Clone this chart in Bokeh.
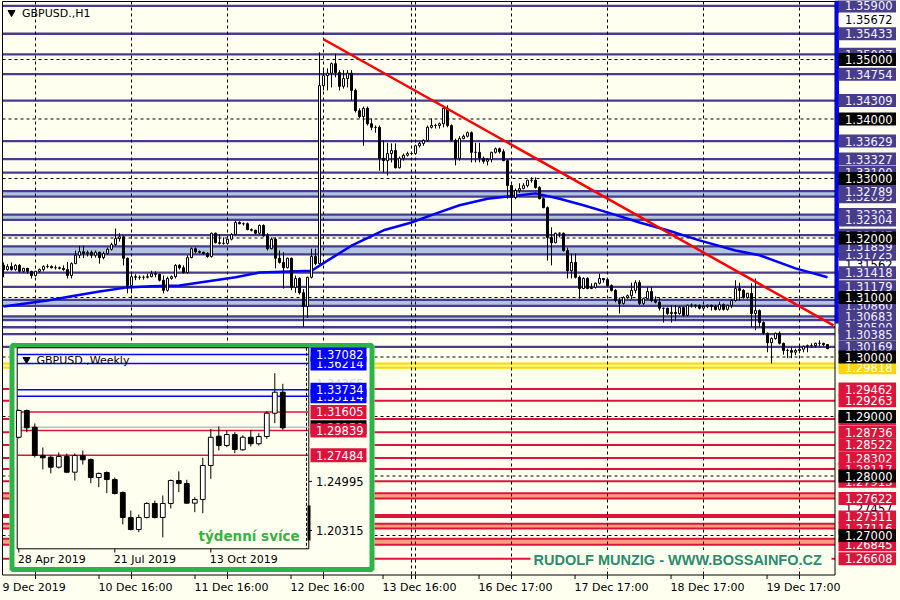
import numpy as np
from bokeh.plotting import figure
from bokeh.models import Range1d, ColumnDataSource
from bokeh.core.properties import value
from bokeh.embed import file_html
from bokeh.resources import INLINE

# ------------------------------------------------------------------ data (GBPUSD H1)
h1_first_open = 1.3154
h1_close = [
    1.3147, 1.3152, 1.3147, 1.3154, 1.3144, 1.3149, 1.3144, 1.3137, 1.3144, 1.3147,
    1.3152, 1.3152, 1.3150, 1.3150, 1.3149, 1.3147, 1.3137, 1.3157, 1.3171, 1.3177,
    1.3174, 1.3176, 1.3171, 1.3176, 1.3167, 1.3174, 1.3181, 1.3189, 1.3199, 1.3202,
    1.3166, 1.3120, 1.3135, 1.3134, 1.3134, 1.3134, 1.3135, 1.3140, 1.3139, 1.3129,
    1.3112, 1.3132, 1.3135, 1.3154, 1.3150, 1.3142, 1.3167, 1.3182, 1.3177, 1.3176,
    1.3174, 1.3169, 1.3208, 1.3192, 1.3191, 1.3191, 1.3198, 1.3206, 1.3226, 1.3224,
    1.3224, 1.3214, 1.3213, 1.3208, 1.3221, 1.3204, 1.3182, 1.3198, 1.3166, 1.3159,
    1.3150, 1.3166, 1.3117, 1.3132, 1.3108, 1.3085, 1.3134, 1.3169, 1.3157, 1.3456,
    1.3473, 1.3477, 1.3493, 1.3478, 1.3455, 1.3468, 1.3477, 1.3448, 1.3414, 1.3404,
    1.3418, 1.3392, 1.3386, 1.3386, 1.3334, 1.3330, 1.3342, 1.3347, 1.3318, 1.3334,
    1.3339, 1.3342, 1.3342, 1.3355, 1.3359, 1.3364, 1.3386, 1.3389, 1.3389, 1.3392,
    1.3418, 1.3389, 1.3364, 1.3334, 1.3367, 1.3371, 1.3377, 1.3344, 1.3344, 1.3334,
    1.3329, 1.3332, 1.3344, 1.3350, 1.3345, 1.3330, 1.3288, 1.3268, 1.3280, 1.3283,
    1.3288, 1.3297, 1.3297, 1.3285, 1.3266, 1.3251, 1.3201, 1.3192, 1.3208, 1.3208,
    1.3179, 1.3145, 1.3159, 1.3134, 1.3115, 1.3132, 1.3115, 1.3117, 1.3124, 1.3132,
    1.3130, 1.3120, 1.3112, 1.3095, 1.3090, 1.3100, 1.3103, 1.3112, 1.3125, 1.3090,
    1.3098, 1.3110, 1.3095, 1.3092, 1.3082, 1.3082, 1.3073, 1.3075, 1.3073, 1.3083,
    1.3070, 1.3087, 1.3087, 1.3087, 1.3082, 1.3085, 1.3087, 1.3085, 1.3080, 1.3088,
    1.3080, 1.3087, 1.3095, 1.3115, 1.3112, 1.3100, 1.3107, 1.3073, 1.3078, 1.3058,
    1.3040, 1.3024, 1.3031, 1.3040, 1.3023, 1.3011, 1.3011, 1.3008, 1.3011, 1.3013,
    1.3018, 1.3019, 1.3019, 1.3023, 1.3023, 1.3021, 1.3014]
h1_high = [
    1.3159, 1.3156, 1.3159, 1.3156, 1.3156, 1.3150, 1.3150, 1.3145, 1.3145, 1.3149,
    1.3154, 1.3156, 1.3154, 1.3154, 1.3152, 1.3154, 1.3160, 1.3159, 1.3179, 1.3187,
    1.3187, 1.3179, 1.3179, 1.3179, 1.3177, 1.3177, 1.3184, 1.3192, 1.3216, 1.3208,
    1.3204, 1.3167, 1.3139, 1.3139, 1.3137, 1.3137, 1.3140, 1.3145, 1.3144, 1.3140,
    1.3137, 1.3135, 1.3137, 1.3156, 1.3156, 1.3154, 1.3171, 1.3184, 1.3184, 1.3179,
    1.3177, 1.3176, 1.3209, 1.3209, 1.3206, 1.3201, 1.3199, 1.3208, 1.3229, 1.3228,
    1.3226, 1.3226, 1.3216, 1.3214, 1.3223, 1.3223, 1.3208, 1.3201, 1.3201, 1.3179,
    1.3176, 1.3167, 1.3167, 1.3137, 1.3134, 1.3114, 1.3135, 1.3182, 1.3182, 1.3512,
    1.3482, 1.3485, 1.3495, 1.3510, 1.3482, 1.3482, 1.3482, 1.3482, 1.3451, 1.3418,
    1.3421, 1.3421, 1.3401, 1.3389, 1.3389, 1.3364, 1.3360, 1.3359, 1.3359, 1.3337,
    1.3342, 1.3345, 1.3345, 1.3357, 1.3362, 1.3366, 1.3389, 1.3401, 1.3392, 1.3394,
    1.3421, 1.3423, 1.3391, 1.3367, 1.3371, 1.3374, 1.3379, 1.3379, 1.3360, 1.3360,
    1.3337, 1.3334, 1.3345, 1.3352, 1.3352, 1.3349, 1.3332, 1.3290, 1.3283, 1.3292,
    1.3292, 1.3298, 1.3302, 1.3302, 1.3287, 1.3268, 1.3253, 1.3218, 1.3209, 1.3209,
    1.3209, 1.3184, 1.3174, 1.3174, 1.3137, 1.3134, 1.3134, 1.3124, 1.3125, 1.3140,
    1.3132, 1.3132, 1.3122, 1.3114, 1.3100, 1.3102, 1.3105, 1.3125, 1.3129, 1.3129,
    1.3100, 1.3117, 1.3117, 1.3102, 1.3100, 1.3083, 1.3083, 1.3087, 1.3087, 1.3085,
    1.3085, 1.3088, 1.3090, 1.3088, 1.3088, 1.3087, 1.3088, 1.3088, 1.3088, 1.3093,
    1.3090, 1.3088, 1.3097, 1.3129, 1.3125, 1.3114, 1.3108, 1.3124, 1.3132, 1.3080,
    1.3060, 1.3041, 1.3033, 1.3041, 1.3043, 1.3024, 1.3014, 1.3016, 1.3014, 1.3018,
    1.3019, 1.3021, 1.3023, 1.3024, 1.3028, 1.3024, 1.3021]
h1_low = [
    1.3134, 1.3145, 1.3145, 1.3145, 1.3142, 1.3142, 1.3140, 1.3132, 1.3135, 1.3142,
    1.3144, 1.3149, 1.3149, 1.3147, 1.3147, 1.3145, 1.3132, 1.3132, 1.3156, 1.3166,
    1.3166, 1.3169, 1.3166, 1.3167, 1.3157, 1.3164, 1.3172, 1.3179, 1.3186, 1.3194,
    1.3154, 1.3107, 1.3107, 1.3129, 1.3130, 1.3130, 1.3132, 1.3134, 1.3134, 1.3127,
    1.3107, 1.3110, 1.3130, 1.3132, 1.3147, 1.3140, 1.3140, 1.3166, 1.3174, 1.3174,
    1.3172, 1.3167, 1.3167, 1.3191, 1.3189, 1.3189, 1.3189, 1.3196, 1.3204, 1.3223,
    1.3221, 1.3213, 1.3211, 1.3206, 1.3206, 1.3202, 1.3179, 1.3181, 1.3149, 1.3157,
    1.3115, 1.3149, 1.3112, 1.3108, 1.3105, 1.3050, 1.3066, 1.3132, 1.3154, 1.3156,
    1.3448, 1.3448, 1.3453, 1.3470, 1.3448, 1.3451, 1.3453, 1.3431, 1.3411, 1.3401,
    1.3355, 1.3389, 1.3381, 1.3377, 1.3313, 1.3310, 1.3305, 1.3327, 1.3317, 1.3317,
    1.3330, 1.3337, 1.3339, 1.3340, 1.3352, 1.3355, 1.3362, 1.3384, 1.3384, 1.3384,
    1.3386, 1.3386, 1.3362, 1.3322, 1.3330, 1.3366, 1.3369, 1.3327, 1.3327, 1.3327,
    1.3325, 1.3322, 1.3327, 1.3342, 1.3342, 1.3329, 1.3266, 1.3234, 1.3265, 1.3276,
    1.3282, 1.3285, 1.3293, 1.3283, 1.3265, 1.3250, 1.3162, 1.3154, 1.3191, 1.3201,
    1.3177, 1.3132, 1.3132, 1.3132, 1.3098, 1.3114, 1.3114, 1.3114, 1.3115, 1.3122,
    1.3125, 1.3118, 1.3110, 1.3092, 1.3073, 1.3088, 1.3098, 1.3097, 1.3107, 1.3087,
    1.3087, 1.3097, 1.3092, 1.3090, 1.3078, 1.3058, 1.3071, 1.3058, 1.3061, 1.3071,
    1.3068, 1.3068, 1.3083, 1.3082, 1.3080, 1.3078, 1.3082, 1.3078, 1.3078, 1.3078,
    1.3078, 1.3078, 1.3082, 1.3093, 1.3095, 1.3098, 1.3098, 1.3050, 1.3045, 1.3050,
    1.3038, 1.3008, 1.2989, 1.3029, 1.3021, 1.3004, 1.2998, 1.2998, 1.3003, 1.3006,
    1.3008, 1.3008, 1.3016, 1.3016, 1.3018, 1.3018, 1.3013]

# moving average (blue) read at some bars
ma_bars = [0, 11, 17, 24, 31, 37, 44, 58, 64, 77, 81, 87, 95, 102, 108, 114, 121, 128, 133,
           139, 145, 152, 159, 166, 174, 183, 189, 198, 206]
ma_values = [1.3085, 1.3095, 1.3102, 1.3110, 1.3117, 1.3119, 1.3120, 1.3134, 1.3142, 1.3145,
             1.3162, 1.3187, 1.3213, 1.3226, 1.3241, 1.3255, 1.3266, 1.3271, 1.3275,
             1.3266, 1.3255, 1.3241, 1.3226, 1.3213, 1.3196, 1.3179, 1.3171, 1.3149, 1.3134]

# red trend line
trend_bars = [80, 207.5]
trend_prices = [1.3534, 1.3053]

# time axis
time_tick_bars = [8, 32, 56, 80, 103, 127, 151, 175, 199]
time_tick_labels = ["9 Dec 2019", "10 Dec 16:00", "11 Dec 16:00", "12 Dec 16:00", "13 Dec 16:00",
                    "16 Dec 17:00", "17 Dec 17:00", "18 Dec 17:00", "19 Dec 17:00"]
extra_vline_bars = [102]

# horizontal levels
round_levels = [1.35, 1.34, 1.33, 1.32, 1.31, 1.30, 1.29, 1.28, 1.27]
resistance_levels = [1.35900, 1.35433, 1.35087, 1.34754, 1.34309, 1.33629, 1.33100, 1.33327,
                     1.32695, 1.32789, 1.32393, 1.32304, 1.32047, 1.31725, 1.31859, 1.31418,
                     1.31179, 1.30960, 1.30860, 1.30620, 1.30683, 1.30500, 1.30385, 1.30169]
resistance_labels = [1.35900, 1.35433, 1.35087, 1.34754, 1.34309, 1.33629, 1.33100, 1.33327,
                     1.32695, 1.32789, 1.32393, 1.32304, 1.32047, 1.31725, 1.31859, 1.31418,
                     1.31179, 1.30960, 1.30860, 1.30683, 1.30500, 1.30385, 1.30169]
resistance_bands = [(1.32789, 1.32695), (1.32393, 1.32304), (1.31859, 1.31725),
                    (1.30960, 1.30860), (1.30683, 1.30620)]
pivot_levels = [1.29890, 1.29818]
support_levels = [1.29462, 1.29263, 1.28960, 1.28736, 1.28522, 1.28302, 1.28117, 1.27913,
                  1.27710, 1.27622, 1.27345, 1.27311, 1.27197, 1.27116, 1.26945, 1.26845, 1.26608]
support_labels = [1.29462, 1.29263, 1.28960, 1.28736, 1.28522, 1.28302, 1.28117, 1.27913,
                  1.27622, 1.27311, 1.27116, 1.26845, 1.26608]
support_bands = [(1.27710, 1.27622), (1.27197, 1.27116), (1.26945, 1.26845)]
support_solid_bands = [(1.27345, 1.27311)]
white_levels = [1.35672, 1.31562, 1.27457]

# ------------------------------------------------------------------ data (GBPUSD Weekly inset)
wk_open = [1.2920, 1.3175, 1.3016, 1.2746, 1.2730, 1.2635, 1.2737, 1.2587, 1.2746, 1.2708,
           1.2536, 1.2584, 1.2517, 1.2394, 1.2155, 1.2041, 1.2155, 1.2289, 1.2155, 1.2289,
           1.2508, 1.2479, 1.2292, 1.2327, 1.2651, 1.2930, 1.2841, 1.2946, 1.2800, 1.2920,
           1.2858, 1.2927, 1.3149, 1.3349]
wk_high = [1.3184, 1.3184, 1.3051, 1.2822, 1.2746, 1.2775, 1.2765, 1.2765, 1.2794, 1.2717,
           1.2584, 1.2594, 1.2536, 1.2403, 1.2222, 1.2184, 1.2301, 1.2317, 1.2365, 1.2517,
           1.2594, 1.2515, 1.2349, 1.2724, 1.3000, 1.3022, 1.2984, 1.2968, 1.2937, 1.2991,
           1.2958, 1.3168, 1.3530, 1.3429]
wk_low = [1.2908, 1.2968, 1.2727, 1.2613, 1.2575, 1.2622, 1.2577, 1.2508, 1.2660, 1.2482,
          1.2444, 1.2387, 1.2375, 1.2089, 1.2032, 1.2015, 1.2146, 1.2146, 1.1965, 1.2241,
          1.2396, 1.2286, 1.2206, 1.2196, 1.2524, 1.2794, 1.2825, 1.2768, 1.2794, 1.2832,
          1.2841, 1.2905, 1.3054, 1.2991]
wk_close = [1.3175, 1.3010, 1.2746, 1.2724, 1.2635, 1.2737, 1.2587, 1.2746, 1.2705, 1.2536,
            1.2575, 1.2517, 1.2384, 1.2155, 1.2041, 1.2155, 1.2289, 1.2155, 1.2289, 1.2508,
            1.2479, 1.2292, 1.2327, 1.2651, 1.2920, 1.2841, 1.2946, 1.2803, 1.2920, 1.2858,
            1.2927, 1.3149, 1.3349, 1.3010]
wk_tick_idx = [0, 12, 24]
wk_tick_labels = ["28 Apr 2019", "21 Jul 2019", "13 Oct 2019"]
wk_blue_levels = [1.36214, 1.37082, 1.33114, 1.33734]
wk_red_levels = [1.31605, 1.29839, 1.27484]
wk_bid = 1.30150
wk_faint_level = 1.34365
wk_scale_levels = [1.24995, 1.20315]

# ------------------------------------------------------------------ styles / geometry
BG = "#FFFFF0"
SLATE = "#483D8B"
STEEL = "#B0C4DE"
CRIMSON = "#DC143C"
SALMON = "#FFA07A"
GOLD = "#FFD700"
PALEGOLD = "#FFF68F"
BLUE = "#0000FF"
GREEN = "#2DB34A"

PX_PER_BAR = 4.0          # 4 px per H1 bar
PX_PER_PRICE = 5950.0     # px per 1.0 of price
Y_TOP = 1.30 + 356.5 / PX_PER_PRICE
X_LEFT = -3.0 / PX_PER_BAR


def mx(px):
    return X_LEFT + px / PX_PER_BAR


def my(py):
    return Y_TOP - py / PX_PER_PRICE


WK_PX_PER_BAR = 8.0
WK_PX_PER_PRICE = 1049.7


def wx(px):
    return (px - 18.3) / WK_PX_PER_BAR


def wy(py):
    return 1.37082 - (py - 354.0) / WK_PX_PER_PRICE


p = figure(width=900, height=600, x_range=Range1d(mx(0), mx(900)), y_range=Range1d(my(600), my(0)),
           x_axis_type=None, y_axis_type=None, output_backend="svg", toolbar_location=None,
           min_border=0, background_fill_color=BG, border_fill_color=BG, outline_line_color=None)
p.extra_x_ranges = {"wk": Range1d(wx(0), wx(900))}
p.extra_y_ranges = {"wkp": Range1d(wy(600), wy(0))}
p.grid.visible = False

FL, FR, FT, FB = mx(2), mx(834.5), my(1), my(574.5)
font = value("DejaVu Sans")

# ---------------- bands and levels
for a, b in resistance_bands:
    p.quad(left=[FL], right=[FR], top=[a], bottom=[b], fill_color=STEEL, line_color=None)
for a, b in support_bands:
    p.quad(left=[FL], right=[FR], top=[a], bottom=[b], fill_color=SALMON, line_color=None)
for a, b in support_solid_bands:
    p.quad(left=[FL], right=[FR], top=[a], bottom=[b], fill_color=CRIMSON, line_color=None)
p.quad(left=[FL], right=[FR], top=[pivot_levels[0]], bottom=[pivot_levels[1]], fill_color=PALEGOLD, line_color=None)

p.segment(x0=[FL] * len(resistance_levels), x1=[FR] * len(resistance_levels), y0=resistance_levels,
          y1=resistance_levels, line_color=SLATE, line_width=2.3)
p.segment(x0=[FL] * len(support_levels), x1=[FR] * len(support_levels), y0=support_levels,
          y1=support_levels, line_color=CRIMSON, line_width=2)
p.segment(x0=[FL] * 2, x1=[FR] * 2, y0=pivot_levels, y1=pivot_levels, line_color=GOLD, line_width=2)

# grid
p.segment(x0=[FL] * len(round_levels), x1=[FR] * len(round_levels), y0=round_levels, y1=round_levels,
          line_color="black", line_width=1, line_dash="3 3")
vb = time_tick_bars + extra_vline_bars
p.segment(x0=vb, x1=vb, y0=[FT] * len(vb), y1=[FB] * len(vb), line_color="black", line_width=1, line_dash="3 3")

# MA
p.line(ma_bars, ma_values, line_color=BLUE, line_width=2.5)

# candles
n = len(h1_close)
opens = np.array([h1_first_open] + h1_close[:-1])
closes = np.array(h1_close)
src = ColumnDataSource(dict(
    x=np.arange(n), top=np.maximum(opens, closes), bottom=np.minimum(opens, closes),
    hi=h1_high, lo=h1_low, fill=["white" if c >= o else "black" for o, c in zip(opens, closes)]))
p.segment(x0="x", x1="x", y0="lo", y1="hi", source=src, line_color="black", line_width=1)
p.vbar(x="x", width=0.5, top="top", bottom="bottom", source=src, fill_color="fill", line_color="black",
       line_width=1)

# trend line
p.line(trend_bars, trend_prices, line_color="#FF0000", line_width=2.5)

# frame
p.quad(left=[FL], right=[FR], top=[FT], bottom=[FB], fill_color=None, line_color="black", line_width=1)
p.quad(left=[mx(834.5)], right=[mx(838.5)], top=[my(0)], bottom=[my(323)], fill_color=BLUE, line_color=None)

# time ticks & labels (ticks at the grid and at the start of every label)
lab_x = [b - 33.0 / PX_PER_BAR for b in time_tick_bars]
tk = vb + [b - 32.5 / PX_PER_BAR for b in time_tick_bars[1:]]
p.segment(x0=tk, x1=tk, y0=[FB] * len(tk), y1=[my(578.5)] * len(tk), line_color="black", line_width=1)
p.text(x=lab_x, y=[my(587)] * len(time_tick_bars),
       text=time_tick_labels, text_font=font, text_font_size="11px", text_color="black",
       text_baseline="middle", text_align="left")


# ---------------- right price labels
def label(price, fill, color, xl, xr, xt, half, size, yr="default", txt=None):
    p.quad(left=[xl], right=[xr], top=[price + half], bottom=[price - half], fill_color=fill,
           line_color=None, y_range_name=yr)
    p.text(x=[xt], y=[price], text=[txt or f"{price:.5f}"], text_font=font, text_font_size=size,
           text_color=color, text_baseline="middle", text_align="left", y_range_name=yr)


LX0, LX1, LXT, LH = mx(838), mx(895.5), mx(844.5), 6.5 / PX_PER_PRICE
LS = "11.5px"
for v in white_levels:
    label(v, "white", "black", LX0, LX1, LXT, LH, LS)
for v in resistance_labels:
    label(v, SLATE, "#F4F4FF", LX0, LX1, LXT, LH, LS)
for v in pivot_levels:
    label(v, GOLD, "white", LX0, LX1, LXT, LH, LS)
for v in support_labels:
    label(v, CRIMSON, "white", LX0, LX1, LXT, LH, LS)
for v in round_levels:
    label(v, "black", "white", LX0, LX1, LXT, LH, LS)

# title
p.scatter(x=[mx(11)], y=[my(12)], marker="inverted_triangle", size=7, color="black")
p.text(x=[mx(21.5)], y=[my(12.5)], text=["GBPUSD.,H1"], text_font=font, text_font_size="11px",
       text_color="black", text_baseline="middle", text_align="left")

# watermark
p.quad(left=[mx(530)], right=[mx(831)], top=[my(549.5)], bottom=[my(567.5)], fill_color=BG, line_color=None)
p.text(x=[mx(533)], y=[my(559)], text=["RUDOLF MUNZIG - WWW.BOSSAINFO.CZ"], text_font=value("Liberation Sans"),
       text_font_style="bold", text_font_size="14.5px", text_color="#2A8C6E", text_baseline="middle",
       text_align="left")

# ---------------- weekly inset
p.quad(left=[mx(9)], right=[mx(374)], top=[my(342.5)], bottom=[my(571.5)], fill_color=BG, line_color=None)
p.quad(left=[mx(11.5)], right=[mx(371.5)], top=[my(345)], bottom=[my(569)], fill_color=None,
       line_color=GREEN, line_width=5)
IL, IR, IT, IB = wx(16.7), wx(308.3), wy(347.3), wy(548.3)
W = dict(x_range_name="wk", y_range_name="wkp")
p.quad(left=[IL], right=[IR], top=[IT], bottom=[IB], fill_color=None, line_color="black", line_width=1, **W)
p.segment(x0=[IL] * 4, x1=[IR] * 4, y0=wk_blue_levels, y1=wk_blue_levels, line_color=BLUE, line_width=1.5, **W)
p.segment(x0=[IL] * 3, x1=[IR] * 3, y0=wk_red_levels, y1=wk_red_levels, line_color=CRIMSON, line_width=1.5, **W)
p.segment(x0=[IL], x1=[IR], y0=[wk_bid], y1=[wk_bid], line_color="#C0C0C0", line_width=1.5, **W)
p.segment(x0=[wx(306)], x1=[wx(306)], y0=[IT], y1=[IB], line_color="black", line_width=1, line_dash="3 2", **W)

wo, wc = np.array(wk_open), np.array(wk_close)
wsrc = ColumnDataSource(dict(
    x=np.arange(len(wk_close)), top=np.maximum(wo, wc), bottom=np.minimum(wo, wc), hi=wk_high, lo=wk_low,
    fill=["white" if c >= o else "black" for o, c in zip(wo, wc)]))
p.segment(x0="x", x1="x", y0="lo", y1="hi", source=wsrc, line_color="black", line_width=1, **W)
p.vbar(x="x", width=0.6, top="top", bottom="bottom", source=wsrc, fill_color="fill", line_color="black",
       line_width=1, **W)
p.quad(left=[wx(307)], right=[wx(310)], top=[wy(505)], bottom=[wy(540)], fill_color="black", line_color=None, **W)

# inset labels
IX0, IX1, IXT, IH = mx(310), mx(366), mx(315.5), 7.0 / WK_PX_PER_PRICE
p.text(x=[IXT], y=[wk_faint_level], text=[f"{wk_faint_level:.5f}"], text_font=font, text_font_size="11.5px",
       text_color="#D8D8D8", text_baseline="middle", text_align="left", y_range_name="wkp")
for v in wk_blue_levels:
    label(v, BLUE, "white", IX0, IX1, IXT, IH, LS, yr="wkp")
label(wk_bid, "black", "white", IX0, IX1, IXT, IH, LS, yr="wkp")
for v in wk_red_levels:
    label(v, CRIMSON, "white", IX0, IX1, IXT, IH, LS, yr="wkp")
p.text(x=[IXT] * 2, y=wk_scale_levels, text=[f"{v:.5f}" for v in wk_scale_levels], text_font=font,
       text_font_size=LS, text_color="black", text_baseline="middle", text_align="left", y_range_name="wkp")
p.segment(x0=[mx(308.3)] * 2, x1=[mx(311.5)] * 2, y0=wk_scale_levels, y1=wk_scale_levels, line_color="black",
          line_width=1, y_range_name="wkp")

# inset time axis
p.segment(x0=wk_tick_idx, x1=wk_tick_idx, y0=[IB] * 3, y1=[wy(552)] * 3, line_color="black", line_width=1, **W)
p.text(x=[i - 1.0 / WK_PX_PER_BAR for i in wk_tick_idx], y=[my(559)] * 3, text=wk_tick_labels, text_font=font,
       text_font_size="11px", text_color="black", text_baseline="middle", text_align="left", x_range_name="wk")

# inset title and caption
p.scatter(x=[mx(26)], y=[my(359)], marker="inverted_triangle", size=7, color="black")
p.text(x=[mx(36)], y=[my(360)], text=["GBPUSD.,Weekly"], text_font=font, text_font_size="11px",
       text_color="black", text_baseline="middle", text_align="left")
p.text(x=[mx(198)], y=[my(535)], text=["týdenní svíce"], text_font=font, text_font_style="bold",
       text_font_size="13.5px", text_color="#3CB043", text_baseline="middle", text_align="left")

open("out.html", "w").write(file_html(p, INLINE))
